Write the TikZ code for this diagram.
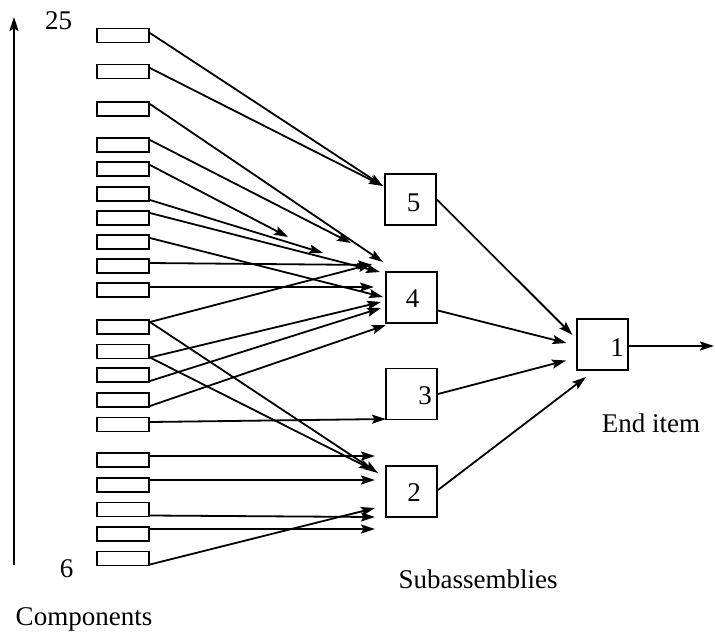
\documentclass[tikz,border=0pt]{standalone}
\usepackage{fontspec}
\setmainfont{Liberation Serif}
\usetikzlibrary{arrows.meta}
\begin{document}
\begin{tikzpicture}[x=1pt,y=-1pt,
  comp/.style={draw,line width=1.9pt,minimum width=52pt,minimum height=14pt,inner sep=0pt},
  sub/.style={draw,line width=1.9pt,minimum width=51pt,minimum height=51pt,inner sep=0pt},
  lbl/.style={font=\fontsize{27}{30}\selectfont,inner sep=0pt},
  link/.style={line width=1.8pt,-{Stealth[length=14pt,width=9pt,inset=2.5pt]}},
]
\useasboundingbox (0,0) rectangle (715,633);
% components
\foreach \i/\y in {1/35.5,2/71.5,3/109,4/145,5/169,6/194,7/218,8/242,9/266,10/290,
                   11/327,12/351.5,13/375,14/400,15/424.5,16/460,17/485,18/509.5,19/534,20/558.5}
  {\node[comp] (c\i) at (123,\y) {};}
% subassemblies and end item
\node[sub] (s5) at (410.5,199.5) {};
\node[sub] (s4) at (411.5,297.5) {};
\node[sub] (s3) at (411.5,394) {};
\node[sub] (s2) at (411.5,491.5) {};
\node[sub] (s1) at (602.5,344.5) {};
\node[lbl] (n5) at (413.5,203) {5};
\node[lbl] (n4) at (412.5,299) {4};
\node[lbl] (n3) at (425,396) {3};
\node[lbl] (n2) at (414,493) {2};
\node[lbl] (n1) at (617,348) {1};
% labels
\node[lbl] (top) at (58.5,21) {25};
\node[lbl] (bot) at (66.5,569) {6};
\node[lbl,anchor=base] (lc) at (84,625) {Components};
\node[lbl,anchor=base] (ls) at (478,588) {Subassemblies};
\node[lbl,anchor=base] (le) at (651,432) {End item};
% vertical axis arrow
\coordinate (vb) at (14,565);
\coordinate (vt) at (14,17);
\draw[link] (vb) -- (vt);
% arrow tips (free ends)
\coordinate (t1) at (383,186);
\coordinate (t2) at (383,186);
\coordinate (t3) at (383,262);
\coordinate (t4) at (351,243);
\coordinate (t5) at (288,237);
\coordinate (t6) at (323,253);
\coordinate (t7) at (380,272);
\coordinate (t8) at (383,297);
\coordinate (t9) at (372,265);
\coordinate (t10) at (374,287);
\coordinate (t11a) at (372,264);
\coordinate (t11b) at (378,473);
\coordinate (t12a) at (381,302);
\coordinate (t12b) at (373,470);
\coordinate (t13) at (381,308);
\coordinate (t14) at (386,325);
\coordinate (t15) at (386,419);
\coordinate (t16) at (375,456);
\coordinate (t17) at (375,480);
\coordinate (t18) at (375,517);
\coordinate (t19) at (375,529);
\coordinate (t20) at (375,508);
\draw[link] ([yshift=2.5pt]c1.east) -- (t1);
\draw[link] ([yshift=3.5pt]c2.east) -- (t2);
\draw[link] ([yshift=5pt]c3.east) -- (t3);
\draw[link] ([yshift=5pt]c4.east) -- (t4);
\draw[link] ([yshift=4pt]c5.east) -- (t5);
\draw[link] ([yshift=-6pt]c6.east) -- (t6);
\draw[link] ([yshift=5pt]c7.east) -- (t7);
\draw[link] ([yshift=4pt]c8.east) -- (t8);
\draw[link] ([yshift=3pt]c9.east) -- (t9);
\draw[link] ([yshift=3pt]c10.east) -- (t10);
\draw[link] ([yshift=5pt]c11.east) -- (t11a);
\draw[link] ([yshift=5pt]c11.east) -- (t11b);
\draw[link] ([yshift=-6pt]c12.east) -- (t12a);
\draw[link] ([yshift=-6pt]c12.east) -- (t12b);
\draw[link] ([yshift=-6pt]c13.east) -- (t13);
\draw[link] ([yshift=-6pt]c14.east) -- (t14);
\draw[link] ([yshift=2.5pt]c15.east) -- (t15);
\draw[link] ([yshift=4pt]c16.east) -- (t16);
\draw[link] ([yshift=5pt]c17.east) -- (t17);
\draw[link] ([yshift=-6pt]c18.east) -- (t18);
\draw[link] ([yshift=5pt]c19.east) -- (t19);
\draw[link] ([yshift=-6pt]c20.east) -- (t20);
% subassemblies to end item
\coordinate (u5) at (572.5,335);
\coordinate (u4) at (566.5,343);
\coordinate (u3) at (566,360.5);
\coordinate (u2) at (586,377);
\coordinate (out) at (714,346);
\draw[link] (s5.east) -- (u5);
\draw[link] ([yshift=-13pt]s4.east) -- (u4);
\draw[link] (s3.east) -- (u3);
\draw[link] ([yshift=1.5pt]s2.east) -- (u2);
\draw[link] ([yshift=-1.5pt]s1.east) -- (out);
\end{tikzpicture}
\end{document}
